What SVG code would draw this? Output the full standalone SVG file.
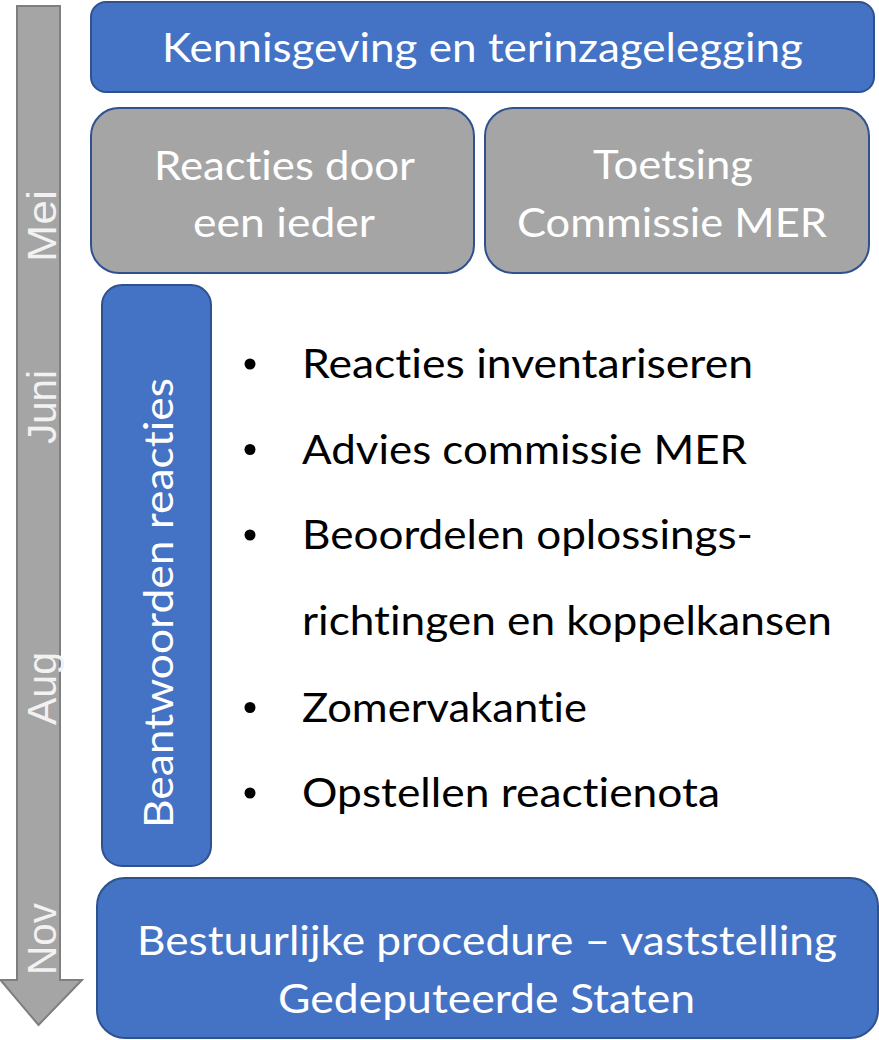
<svg xmlns="http://www.w3.org/2000/svg" width="879" height="1040" viewBox="0 0 879 1040">
<style>
.blue{fill:#4472C4;stroke:#2F528F;stroke-width:2}
.gray{fill:#A5A5A5;stroke:#2F528F;stroke-width:2}
.wt{fill:#FFFFFF;font-family:Lato,"Open Sans",sans-serif;font-size:41px;font-variant-ligatures:none;font-feature-settings:"liga" 0,"clig" 0,"dlig" 0}
.bt{fill:#000000;font-family:Lato,"Open Sans",sans-serif;font-size:40px;font-variant-ligatures:none;font-feature-settings:"liga" 0,"clig" 0,"dlig" 0}
.mon{fill:#F2F2F2;font-family:"Liberation Sans",Arial,sans-serif;font-size:41px}
</style>
<rect width="879" height="1040" fill="#FFFFFF"/>
<g id="timeline">
<path d="M17,6 H60 V980 H82 L38.5,1025 L0.5,980 H17 Z" fill="#A5A5A5" stroke="#7F7F7F" stroke-width="2"/>
<text class="mon" transform="translate(56,262) rotate(-90)" textLength="72" lengthAdjust="spacingAndGlyphs">Mei</text>
<text class="mon" transform="translate(56,444) rotate(-90)" textLength="74" lengthAdjust="spacingAndGlyphs">Juni</text>
<text class="mon" transform="translate(56,725) rotate(-90)" textLength="73" lengthAdjust="spacingAndGlyphs">Aug</text>
<text class="mon" transform="translate(56,975) rotate(-90)" textLength="72" lengthAdjust="spacingAndGlyphs">Nov</text>
</g>
<g id="connectors"></g>
<g id="kennisgeving">
<rect class="blue" x="91" y="2" width="783" height="90" rx="15"/>
<text class="wt" x="482.5" y="62" text-anchor="middle" textLength="641" lengthAdjust="spacingAndGlyphs">Kennisgeving en terinzagelegging</text>
</g>
<g id="reacties">
<rect class="gray" x="91" y="108" width="383" height="165" rx="28"/>
<text class="wt" x="284.5" y="180" text-anchor="middle" textLength="261" lengthAdjust="spacingAndGlyphs">Reacties door</text>
<text class="wt" x="284" y="237" text-anchor="middle" textLength="182" lengthAdjust="spacingAndGlyphs">een ieder</text>
</g>
<g id="toetsing">
<rect class="gray" x="485" y="108" width="384" height="165" rx="28"/>
<text class="wt" x="673" y="179" text-anchor="middle" textLength="160" lengthAdjust="spacingAndGlyphs">Toetsing</text>
<text class="wt" x="672" y="237" text-anchor="middle" textLength="310" lengthAdjust="spacingAndGlyphs">Commissie MER</text>
</g>
<g id="beantwoorden">
<rect class="blue" x="102" y="285" width="109" height="581" rx="20"/>
<text class="wt" transform="translate(173,828) rotate(-90)" textLength="450" lengthAdjust="spacingAndGlyphs">Beantwoorden reacties</text>
</g>
<g id="bullets">
<circle cx="250" cy="364" r="5.5"/>
<text class="bt" x="302" y="378" textLength="451" lengthAdjust="spacingAndGlyphs">Reacties inventariseren</text>
<circle cx="250" cy="449.5" r="5.5"/>
<text class="bt" x="302" y="463.5" textLength="445" lengthAdjust="spacingAndGlyphs">Advies commissie MER</text>
<circle cx="250" cy="535" r="5.5"/>
<text class="bt" x="302" y="549" textLength="451" lengthAdjust="spacingAndGlyphs">Beoordelen oplossings-</text>
<text class="bt" x="302" y="635" textLength="530" lengthAdjust="spacingAndGlyphs">richtingen en koppelkansen</text>
<circle cx="250" cy="707.5" r="5.5"/>
<text class="bt" x="302" y="721.5" textLength="285" lengthAdjust="spacingAndGlyphs">Zomervakantie</text>
<circle cx="250" cy="793" r="5.5"/>
<text class="bt" x="302" y="807" textLength="418" lengthAdjust="spacingAndGlyphs">Opstellen reactienota</text>
</g>
<g id="bestuurlijke">
<rect class="blue" x="97" y="878" width="781" height="160" rx="28"/>
<text class="wt" x="487" y="955" text-anchor="middle" textLength="700" lengthAdjust="spacingAndGlyphs">Bestuurlijke procedure – vaststelling</text>
<text class="wt" x="486.5" y="1013" text-anchor="middle" textLength="417" lengthAdjust="spacingAndGlyphs">Gedeputeerde Staten</text>
</g>
</svg>
